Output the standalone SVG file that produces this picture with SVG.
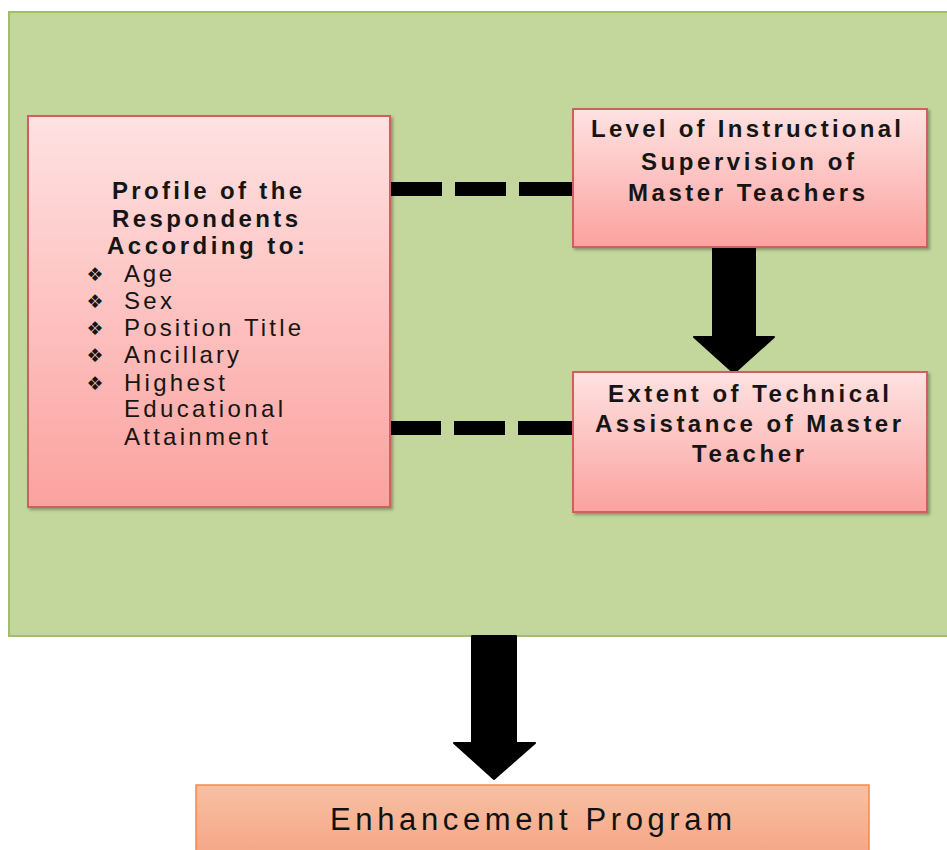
<svg xmlns="http://www.w3.org/2000/svg" width="947" height="850" viewBox="0 0 947 850">
<defs>
<linearGradient id="pink" x1="0" y1="0" x2="0" y2="1">
<stop offset="0" stop-color="#fee2e2"/>
<stop offset="1" stop-color="#fba29f"/>
</linearGradient>
<linearGradient id="orange" x1="0" y1="0" x2="0" y2="1">
<stop offset="0" stop-color="#f8c0a3"/>
<stop offset="1" stop-color="#f4a282"/>
</linearGradient>
<filter id="sh" x="-5%" y="-5%" width="112%" height="112%">
<feDropShadow dx="2" dy="2" stdDeviation="1.5" flood-color="#000" flood-opacity="0.3"/>
</filter>
<style>
.box{fill:url(#pink);stroke:#d0605e;stroke-width:2;filter:url(#sh)}
.hd{font-family:"Liberation Sans",Arial,sans-serif;font-weight:bold;font-size:24px;fill:#151515}
.it{font-family:"Liberation Sans",Arial,sans-serif;font-size:24px;fill:#151515}
.bu{font-family:"DejaVu Sans",sans-serif;font-size:19px;fill:#151515;text-anchor:middle}
.dash{fill:none;stroke:#000;stroke-width:14;stroke-dasharray:51 13 51 13 60}
.arr{fill:#000;stroke:#000;stroke-width:2;stroke-linejoin:round}
</style>
</defs>
<rect width="947" height="850" fill="#fff"/>
<g id="panel">
<rect x="9" y="12" width="960" height="624" fill="#c3d69b" stroke="#9fbd6a" stroke-width="2"/>
</g>
<g id="connectors">
<path class="dash" d="M391 189 H573"/>
<path class="dash" d="M390 428 H573"/>
<path class="arr" d="M713 247 H755 V337 H774 L734 373 L694 337 H713 Z"/>
<path class="arr" d="M472 636 H516 V743 H535 L494 779 L454 743 H472 Z"/>
</g>
<g id="profile">
<rect class="box" x="28" y="116" width="362" height="391"/>
<text class="hd" x="112" y="199" textLength="190" lengthAdjust="spacing">Profile of the</text>
<text class="hd" x="112" y="227" textLength="186" lengthAdjust="spacing">Respondents</text>
<text class="hd" x="107" y="254" textLength="198" lengthAdjust="spacing">According to:</text>
<text class="bu" x="95" y="281">❖</text>
<text class="bu" x="95" y="308">❖</text>
<text class="bu" x="95" y="335">❖</text>
<text class="bu" x="95" y="362">❖</text>
<text class="bu" x="95" y="390">❖</text>
<text class="it" x="124" y="282" textLength="48" lengthAdjust="spacing">Age</text>
<text class="it" x="124" y="309" textLength="48" lengthAdjust="spacing">Sex</text>
<text class="it" x="124" y="336" textLength="177" lengthAdjust="spacing">Position Title</text>
<text class="it" x="124" y="363" textLength="115" lengthAdjust="spacing">Ancillary</text>
<text class="it" x="124" y="391" textLength="101" lengthAdjust="spacing">Highest</text>
<text class="it" x="124" y="417" textLength="159" lengthAdjust="spacing">Educational</text>
<text class="it" x="124" y="445" textLength="144" lengthAdjust="spacing">Attainment</text>
</g>
<g id="supervision">
<rect class="box" x="573" y="109" width="354" height="138"/>
<text class="hd" x="591" y="137" textLength="310" lengthAdjust="spacing">Level of Instructional</text>
<text class="hd" x="641" y="170" textLength="213" lengthAdjust="spacing">Supervision of</text>
<text class="hd" x="628" y="201" textLength="237" lengthAdjust="spacing">Master Teachers</text>
</g>
<g id="assistance">
<rect class="box" x="573" y="372" width="354" height="140"/>
<text class="hd" x="608" y="402" textLength="281" lengthAdjust="spacing">Extent of Technical</text>
<text class="hd" x="595" y="432" textLength="306" lengthAdjust="spacing">Assistance of Master</text>
<text class="hd" x="692" y="462" textLength="112" lengthAdjust="spacing">Teacher</text>
</g>
<g id="enhancement">
<rect x="196" y="785" width="673" height="80" fill="url(#orange)" stroke="#ef8a4f" stroke-width="1.5"/>
<text x="330" y="830" font-family="Liberation Sans,Arial,sans-serif" font-size="31" fill="#111" textLength="402" lengthAdjust="spacing">Enhancement Program</text>
</g>
</svg>
